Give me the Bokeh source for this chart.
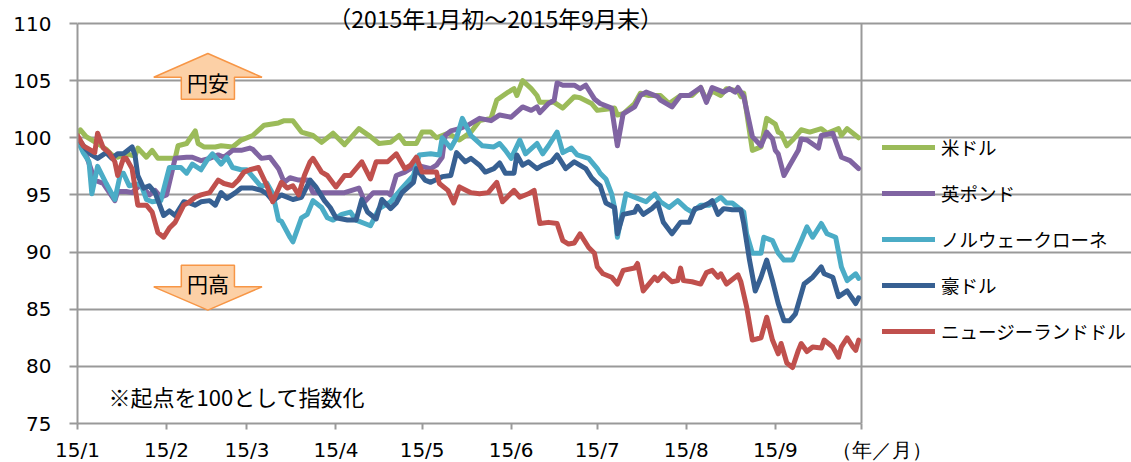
from bokeh.plotting import figure
from bokeh.models import Range1d, FixedTicker, Legend, LegendItem, Label
from bokeh.embed import file_html
from bokeh.resources import INLINE

# x values: days counted from 2015-01-01 (0 = Jan 1)
month_ticks = [0, 31, 59, 90, 120, 151, 181, 212, 243]
month_labels = ["15/1", "15/2", "15/3", "15/4", "15/5", "15/6", "15/7", "15/8", "15/9"]
x_end = 273
unit_label = "\u3000\u3000（年／月）"
y_ticks = [75, 80, 85, 90, 95, 100, 105, 110]
y_min, y_max = 75, 110

series_names = ["米ドル", "英ポンド", "ノルウェークローネ", "豪ドル", "ニュージーランドドル"]
series_colors = ["#9BBB59", "#8064A2", "#4BACC6", "#376092", "#C0504D"]

usd_day = [0, 1, 3, 7, 10, 12, 14, 17, 20, 21, 24, 26, 28, 30, 34, 35, 38, 41, 42, 44,
           48, 50, 54, 57, 61, 65, 70, 72, 75, 78, 82, 85, 89, 93, 98, 102, 105, 109, 112, 114,
           118, 120, 123, 125, 129, 133, 137, 140, 144, 146, 150, 152, 153, 155, 158, 160, 161, 166, 169, 173,
           175, 179, 181, 184, 187, 188, 190, 194, 196, 199, 203, 206, 210, 214, 217, 219, 221, 224, 226, 230,
           231, 232, 235, 238, 240, 243, 244, 245, 247, 249, 252, 255, 259, 261, 265, 266, 268, 272]
usd_val = [100.4, 100.7, 100.1, 99.5, 99.0, 98.5, 98.3, 98.6, 98.4, 99.1, 98.3, 98.9, 98.2, 98.2, 98.2, 99.3, 99.5, 100.6, 99.5, 99.2,
           99.2, 99.3, 99.2, 99.8, 100.2, 101.1, 101.3, 101.5, 101.5, 100.5, 100.2, 99.6, 100.4, 99.4, 100.8, 100.1, 99.5, 99.6, 100.2, 99.5,
           99.5, 100.5, 100.5, 100.0, 100.4, 99.8, 100.5, 101.5, 101.7, 103.3, 104.0, 104.3, 103.7, 105.0, 104.3, 103.7, 103.1, 103.1, 102.6, 103.6,
           103.5, 103.0, 102.4, 102.5, 102.6, 102.0, 102.1, 103.0, 103.9, 103.7, 103.7, 103.0, 103.7, 103.7, 104.4, 103.3, 104.1, 103.7, 104.3, 104.1,
           103.6, 103.9, 98.9, 99.2, 101.7, 101.2, 100.5, 100.4, 99.3, 99.8, 100.7, 100.5, 100.8, 100.4, 100.8, 100.2, 100.8, 100.0]

gbp_day = [0, 3, 6, 9, 13, 14, 17, 19, 22, 25, 27, 29, 31, 34, 38, 40, 43, 46, 49, 51,
           54, 57, 60, 61, 64, 67, 70, 72, 74, 77, 80, 82, 87, 93, 98, 100, 103, 108, 109, 111,
           114, 118, 123, 125, 127, 128, 130, 133, 136, 140, 144, 147, 151, 155, 158, 160, 161, 164, 166, 167,
           169, 173, 175, 177, 180, 182, 186, 188, 190, 194, 196, 198, 202, 203, 207, 210, 213, 217, 219, 221,
           225, 227, 229, 230, 232, 235, 238, 240, 242, 243, 244, 246, 248, 251, 252, 254, 258, 259, 263, 266,
           269, 272]
gbp_val = [100.0, 98.5, 96.3, 96.0, 94.5, 95.3, 95.3, 95.2, 95.9, 95.0, 95.4, 94.8, 95.0, 98.2, 98.3, 98.3, 98.0, 98.2, 98.5, 98.3,
           98.9, 98.9, 99.1, 99.0, 98.2, 98.3, 97.3, 96.1, 96.5, 96.3, 96.3, 95.2, 95.2, 95.2, 95.6, 94.4, 95.2, 95.2, 95.0, 96.7,
           97.0, 97.6, 97.3, 97.6, 98.3, 100.2, 100.6, 100.8, 101.1, 101.7, 101.5, 102.0, 101.8, 102.7, 102.4, 102.7, 102.2, 103.0, 103.3, 104.8,
           104.6, 104.6, 104.3, 104.6, 103.4, 103.0, 102.6, 99.3, 102.1, 102.7, 103.7, 104.0, 103.6, 103.3, 102.7, 103.7, 103.7, 104.4, 103.1, 104.4,
           104.0, 104.3, 104.0, 104.4, 103.6, 100.1, 99.3, 100.5, 99.9, 98.9, 98.6, 96.7, 97.6, 98.9, 99.9, 99.8, 99.1, 100.2, 100.4, 98.3,
           98.0, 97.3]

nok_day = [0, 2, 4, 5, 7, 10, 13, 15, 16, 18, 22, 24, 26, 29, 32, 36, 38, 40, 43, 45,
           47, 50, 52, 54, 57, 59, 61, 64, 66, 68, 70, 71, 74, 75, 78, 80, 82, 85, 87, 89,
           92, 95, 97, 100, 102, 105, 109, 113, 117, 119, 123, 126, 127, 130, 132, 134, 137, 141, 145, 147,
           149, 151, 154, 156, 160, 162, 164, 167, 169, 172, 174, 178, 181, 182, 184, 186, 187, 188, 191, 195,
           198, 201, 203, 206, 209, 212, 214, 217, 220, 224, 226, 228, 232, 233, 235, 238, 239, 242, 244, 246,
           249, 252, 254, 256, 259, 261, 264, 266, 268, 271, 272]
nok_val = [99.8, 98.7, 97.9, 95.1, 97.5, 96.0, 94.6, 96.9, 96.9, 95.8, 96.0, 94.6, 94.4, 94.5, 97.4, 97.4, 96.9, 97.7, 97.2, 98.0,
           98.6, 97.7, 98.3, 97.4, 97.2, 97.2, 96.6, 95.7, 96.0, 95.1, 92.8, 92.7, 91.3, 90.9, 93.0, 93.3, 94.5, 93.9, 93.0, 92.8,
           93.3, 93.5, 92.8, 92.5, 92.3, 93.8, 94.4, 95.6, 96.7, 98.5, 98.6, 98.5, 100.0, 99.1, 100.0, 101.7, 100.2, 99.3, 99.2, 99.5,
           98.9, 98.2, 99.8, 98.6, 99.5, 98.6, 99.3, 100.5, 98.7, 99.1, 98.5, 98.2, 97.3, 96.9, 96.4, 95.1, 93.9, 91.3, 95.1, 94.7,
           94.4, 95.1, 94.4, 93.9, 94.5, 93.8, 93.5, 94.1, 94.1, 94.8, 94.3, 94.3, 93.5, 91.6, 89.9, 89.9, 91.3, 91.0, 89.9, 89.3,
           89.3, 91.0, 92.2, 91.3, 92.5, 91.6, 91.3, 88.7, 87.5, 88.1, 87.7]

aud_day = [0, 3, 5, 7, 10, 12, 14, 16, 19, 20, 21, 23, 25, 27, 30, 32, 34, 37, 39, 41,
           43, 46, 48, 50, 52, 55, 57, 61, 64, 66, 68, 71, 75, 78, 81, 83, 86, 88, 90, 94,
           97, 99, 101, 104, 106, 109, 111, 113, 117, 118, 121, 123, 127, 130, 132, 135, 137, 140, 142, 145,
           147, 149, 152, 153, 155, 157, 160, 162, 165, 167, 170, 173, 177, 179, 181, 182, 184, 187, 188, 190,
           194, 195, 197, 200, 202, 204, 207, 210, 213, 215, 217, 220, 221, 223, 225, 228, 231, 232, 234, 236,
           238, 240, 242, 244, 246, 248, 250, 253, 256, 259, 260, 263, 265, 268, 271, 272]
aud_val = [100.0, 99.0, 98.5, 98.2, 98.7, 98.2, 98.6, 98.6, 99.2, 98.5, 96.7, 95.6, 95.8, 95.2, 93.2, 93.6, 93.2, 94.4, 94.3, 94.1,
           94.4, 94.5, 94.1, 95.2, 94.7, 95.2, 95.6, 95.6, 95.4, 95.1, 94.5, 95.0, 94.6, 94.8, 96.3, 95.7, 94.5, 93.9, 93.0, 92.8,
           92.8, 94.6, 93.5, 92.9, 94.6, 93.8, 94.3, 95.2, 96.1, 97.3, 96.3, 96.1, 96.6, 96.7, 98.7, 97.9, 98.2, 97.6, 97.0, 97.3,
           97.8, 96.9, 96.9, 98.5, 97.6, 97.9, 97.3, 97.6, 97.9, 98.5, 97.3, 97.9, 97.3, 96.5, 96.0, 95.8, 94.3, 93.9, 91.6, 93.3,
           93.5, 94.0, 93.3, 93.8, 94.3, 92.6, 91.6, 92.6, 92.6, 93.8, 93.9, 94.3, 94.5, 93.3, 93.8, 93.7, 93.7, 92.5, 89.3, 86.6,
           87.8, 89.3, 87.5, 85.5, 84.0, 84.0, 84.6, 87.2, 87.8, 88.7, 88.1, 87.8, 86.1, 86.6, 85.5, 86.0]

nzd_day = [0, 2, 4, 6, 7, 9, 11, 13, 14, 16, 17, 19, 21, 24, 26, 28, 30, 32, 34, 37,
           39, 41, 43, 46, 49, 51, 54, 56, 58, 60, 63, 66, 68, 71, 73, 75, 77, 79, 81, 82,
           85, 87, 90, 93, 95, 99, 102, 104, 108, 111, 114, 116, 118, 120, 123, 125, 126, 129, 131, 133,
           137, 140, 143, 146, 148, 152, 154, 157, 159, 161, 164, 167, 169, 171, 173, 175, 178, 180, 181, 183,
           186, 188, 190, 194, 195, 197, 201, 202, 204, 207, 209, 210, 211, 214, 217, 219, 221, 223, 224, 226,
           230, 231, 233, 235, 238, 240, 242, 244, 245, 247, 249, 251, 252, 254, 256, 259, 260, 263, 265, 266,
           268, 270, 271, 272]
nzd_val = [100.2, 99.3, 99.0, 98.7, 100.4, 99.1, 98.7, 97.9, 96.7, 98.2, 98.2, 97.3, 94.1, 94.1, 93.5, 91.7, 91.3, 92.1, 92.6, 94.1,
           94.4, 94.8, 95.0, 95.2, 96.3, 96.0, 95.8, 96.3, 97.0, 97.2, 97.4, 95.8, 94.4, 96.1, 95.6, 95.8, 95.0, 96.7, 97.9, 98.2,
           97.0, 96.7, 95.7, 96.7, 96.7, 97.9, 96.4, 97.9, 97.9, 98.6, 97.3, 97.6, 98.3, 97.0, 97.0, 97.0, 96.0, 95.4, 94.3, 95.7,
           95.2, 95.1, 95.2, 96.1, 94.4, 95.4, 94.8, 95.1, 95.4, 92.5, 92.6, 92.5, 91.0, 90.7, 90.8, 91.6, 90.4, 89.9, 88.7, 88.1,
           87.8, 87.2, 88.4, 88.6, 89.0, 86.6, 87.8, 87.5, 88.1, 87.4, 87.5, 88.6, 87.5, 87.4, 87.2, 88.2, 88.4, 87.8, 88.1, 87.2,
           88.0, 87.4, 85.2, 82.3, 82.5, 84.3, 82.3, 81.1, 82.0, 80.3, 79.9, 81.4, 82.0, 81.3, 81.7, 81.6, 82.3, 81.7, 80.8, 81.7,
           82.5, 81.7, 81.4, 82.3]

series_days = [usd_day, gbp_day, nok_day, aud_day, nzd_day]
series_vals = [usd_val, gbp_val, nok_val, aud_val, nzd_val]

GRID = "#999999"
JP = "Noto Sans CJK JP"

# The plotting frame spans the whole canvas right of / above the axes so that the
# legend and notes are drawn inside it; the data area itself is x 0..273, y 75..110.
PX_PER_DAY = 784 / x_end
PX_PER_UNIT = 400 / (y_max - y_min)
FRAME_W, FRAME_H = 1054, 423
x_hi = FRAME_W / PX_PER_DAY
y_hi = y_min + FRAME_H / PX_PER_UNIT

p = figure(frame_width=FRAME_W, frame_height=FRAME_H,
           min_border_left=77, min_border_right=0, min_border_top=0, min_border_bottom=39,
           x_range=Range1d(0, x_hi), y_range=Range1d(y_min, y_hi),
           output_backend="svg", toolbar_location=None)
p.background_fill_color = "white"
p.border_fill_color = "white"
p.outline_line_color = None

p.xgrid.grid_line_color = None
p.ygrid.grid_line_color = GRID
p.ygrid.grid_line_width = 2
p.ygrid.bounds = (0, x_end)

p.yaxis.ticker = FixedTicker(ticks=y_ticks)
p.yaxis.bounds = (y_min, y_max)
p.yaxis.axis_line_color = GRID
p.yaxis.axis_line_width = 2
p.yaxis.major_tick_line_color = GRID
p.yaxis.major_tick_line_width = 2
p.yaxis.major_tick_out = 8
p.yaxis.major_tick_in = 0
p.yaxis.minor_tick_line_color = None
p.yaxis.major_label_text_font = "DejaVu Sans"
p.yaxis.major_label_text_font_size = "20px"
p.yaxis.major_label_text_color = "black"
p.yaxis.major_label_standoff = 18

p.xaxis.ticker = FixedTicker(ticks=month_ticks + [x_end])
p.xaxis.bounds = (0, x_end)
p.xaxis.axis_line_color = GRID
p.xaxis.axis_line_width = 2
p.xaxis.major_tick_line_color = GRID
p.xaxis.major_tick_line_width = 2
p.xaxis.major_tick_out = 6
p.xaxis.major_tick_in = 0
p.xaxis.minor_tick_line_color = None
p.xaxis.major_label_text_font = "DejaVu Sans"
p.xaxis.major_label_text_font_size = "20px"
p.xaxis.major_label_text_color = "black"
p.xaxis.major_label_standoff = 8
overrides = {t: lab for t, lab in zip(month_ticks, month_labels)}
overrides[x_end] = unit_label
p.xaxis.major_label_overrides = overrides

# right border of the plotting area
p.segment(x0=[x_end], y0=[y_min], x1=[x_end], y1=[y_max], line_color=GRID, line_width=2)

# title line (top of the original figure)
p.add_layout(Label(x=145.6, y=y_hi - 0.05, text="（2015年1月初～2015年9月末）",
                   text_align="center", text_baseline="top",
                   text_font=JP, text_font_size="23px", text_color="black"))

# arrows (円安 up, 円高 down)
def arrow(cx, shaft_half, head_half, y_tail, y_base, y_tip):
    xs = [cx - shaft_half, cx - shaft_half, cx - head_half, cx, cx + head_half, cx + shaft_half, cx + shaft_half]
    ys = [y_tail, y_base, y_base, y_tip, y_base, y_base, y_tail]
    return xs, ys

ax, ay = arrow(45.4, 9.25, 18.85, 103.38, 105.30, 107.38)
p.patch(ax, ay, fill_color="#FCD0A6", line_color="#F79646", line_width=1.5)
bx, by = arrow(45.4, 9.25, 18.85, 88.85, 86.96, 84.92)
p.patch(bx, by, fill_color="#FCD0A6", line_color="#F79646", line_width=1.5)
p.add_layout(Label(x=45.4, y=104.86, text="円安", text_align="center", text_baseline="middle",
                   text_font=JP, text_font_size="21px", text_color="black"))
p.add_layout(Label(x=45.4, y=87.28, text="円高", text_align="center", text_baseline="middle",
                   text_font=JP, text_font_size="21px", text_color="black"))

p.add_layout(Label(x=10.8, y=77.4, text="※起点を100として指数化", text_align="left", text_baseline="middle",
                   text_font=JP, text_font_size="22px", text_color="black"))

items = []
for name, days, vals, col in zip(series_names, series_days, series_vals, series_colors):
    r = p.line(days, vals, line_color=col, line_width=5, line_join="round", line_cap="round")
    items.append(LegendItem(label=name, renderers=[r]))

legend = Legend(items=items, location=(805, 76), orientation="vertical",
                glyph_width=53, glyph_height=32, label_height=32, label_standoff=6, spacing=14,
                padding=0, margin=0, border_line_alpha=0, background_fill_alpha=0,
                label_text_font=JP, label_text_font_size="18.5px", label_text_color="black")
p.add_layout(legend, "center")

open("out.html", "w").write(file_html(p, INLINE))
